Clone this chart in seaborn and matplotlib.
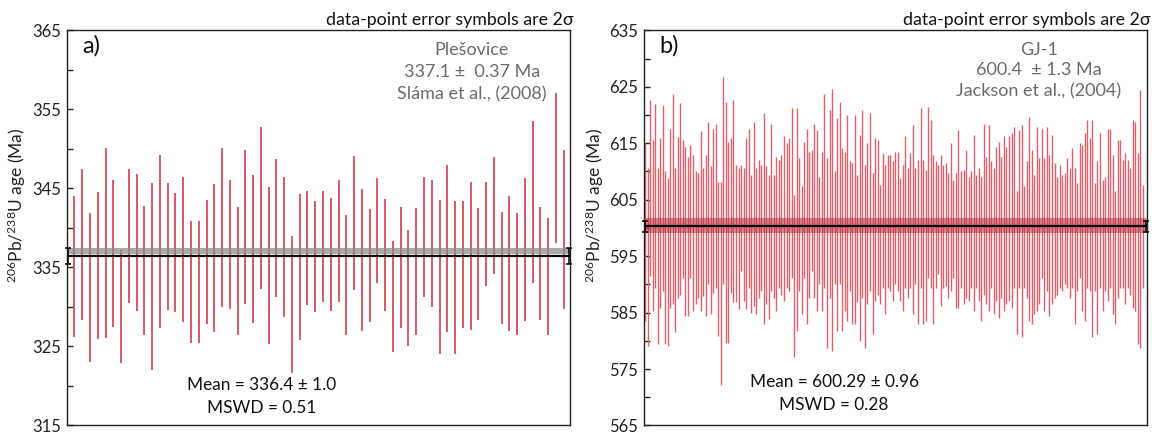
import numpy as np
import pandas as pd
import matplotlib
matplotlib.use("Agg")
import matplotlib.pyplot as plt
import seaborn as sns
from matplotlib.ticker import MultipleLocator

# ---------------- data: panel a (Plesovice) ----------------
hi_a = [344.0, 347.5, 341.9, 344.5, 350.1, 346.1, 337.2, 347.4, 346.8, 342.8,
        345.7, 349.2, 345.7, 344.4, 346.5, 340.9, 340.9, 343.5, 345.6, 350.1,
        346.1, 342.7, 349.8, 346.7, 352.8, 345.2, 348.7, 346.5, 339.0, 344.3,
        344.7, 343.4, 344.7, 343.8, 346.1, 341.6, 349.1, 344.9, 342.4, 346.3,
        343.7, 338.4, 342.7, 339.7, 342.5, 346.5, 346.1, 343.5, 348.0, 343.4,
        343.4, 345.8, 342.5, 345.8, 349.0, 342.0, 344.0, 341.9, 346.3, 353.5,
        342.7, 341.3, 357.1, 349.9]
lo_a = [326.2, 328.3, 323.0, 326.0, 326.1, 327.5, 322.9, 330.5, 329.5, 326.4,
        322.0, 327.3, 329.6, 329.3, 328.1, 325.4, 325.4, 327.8, 326.8, 330.0,
        329.8, 326.5, 330.4, 328.0, 332.3, 325.3, 331.3, 328.7, 321.7, 325.8,
        330.3, 329.3, 330.6, 329.5, 330.6, 326.4, 332.1, 327.0, 328.1, 333.0,
        329.5, 324.3, 327.4, 325.0, 326.4, 331.2, 330.0, 324.0, 326.8, 324.0,
        327.4, 327.1, 328.4, 332.6, 334.2, 327.8, 326.9, 326.4, 328.2, 333.0,
        328.3, 326.5, 338.1, 329.8]
mean_a, mean_err_a = 336.4, 1.0
ref_a, ref_err_a = 337.1, 0.37

# ---------------- data: panel b (GJ-1) ----------------
hi_b = [615.0, 610.6, 622.6, 615.6, 621.9, 610.6, 615.9, 621.8, 610.0, 608.8,
        617.6, 623.8, 610.6, 616.1, 622.1, 615.6, 614.4, 612.6, 614.7, 612.9,
        610.0, 609.7, 617.1, 610.6, 612.9, 618.8, 610.9, 617.6, 618.5, 608.2,
        608.2, 626.8, 622.4, 615.3, 615.9, 622.6, 611.2, 610.6,
        611.2, 610.6, 615.9, 617.6, 609.4, 618.8, 610.6, 612.1, 611.2, 620.3,
        610.9, 609.4, 618.5, 609.4, 612.6, 612.1, 612.9, 616.2, 615.0, 615.9,
        621.2, 605.9, 621.2, 612.4, 607.4, 615.3, 617.6, 613.5, 613.8, 618.5,
        617.4, 609.1, 613.5, 623.8, 612.4, 620.9, 624.7, 610.0, 619.4,
        622.4, 614.1, 613.5, 620.0, 611.8, 611.5, 620.0, 609.4, 616.5, 620.9,
        611.2, 615.0, 620.3, 609.7, 615.9, 615.6, 607.6, 613.2, 611.2, 612.9,
        612.9, 611.8, 613.5, 613.5, 608.8, 611.2, 616.2, 610.6, 613.2, 618.2,
        610.6, 612.1, 621.2, 612.1, 610.3, 621.5, 619.1, 612.9, 611.8, 611.2,
        612.9, 611.2, 611.5, 609.7, 615.0, 608.5, 609.7, 617.4, 610.0, 610.3,
        613.8, 609.1, 610.0, 616.5, 609.4, 610.6, 609.1, 618.5, 612.6, 618.2,
        611.8, 610.6, 614.4, 615.3, 612.6, 616.2, 614.4, 616.2, 616.8, 617.9,
        606.5, 617.4, 618.2, 607.4, 611.8, 619.7, 613.8, 609.4, 617.9, 612.4,
        617.6, 612.4, 617.9, 612.9, 616.5, 611.5, 609.1, 611.2, 609.4, 609.7,
        612.4, 610.6, 614.1, 610.6, 607.9, 615.0, 614.7, 616.8, 619.1, 615.9,
        619.1, 607.9, 611.8, 616.8, 608.5, 609.1, 617.6, 617.6, 612.9, 606.5,
        615.6, 615.6, 612.1, 613.2, 612.1, 610.6, 619.1, 618.8, 613.2, 624.4,
        607.6]
lo_b = [583.5, 579.1, 591.5, 585.3, 589.4, 579.4, 585.9, 588.8, 579.4, 579.1,
        585.9, 586.5, 581.5, 587.6, 588.2, 591.2, 584.4, 584.4, 591.2, 585.3,
        586.5, 587.6, 585.3, 587.9, 584.4, 590.0, 584.7, 588.5, 589.4, 580.9,
        572.1, 590.0, 579.7, 579.7, 588.5, 586.8, 586.8, 585.6,
        592.4, 587.1, 585.6, 589.4, 585.0, 586.2, 584.7, 587.6, 588.8, 582.9,
        586.5, 583.8, 588.8, 587.6, 585.3, 589.4, 588.2, 587.1, 589.4, 588.8,
        591.2, 577.1, 581.8, 588.8, 584.7, 591.2, 582.9, 587.6, 592.4, 587.6,
        585.3, 590.0, 585.3, 589.4, 578.8, 587.6, 578.2, 590.0, 581.8,
        590.0, 581.8, 585.3, 583.5, 588.8, 582.9, 582.9, 586.8, 580.0, 587.6,
        578.8, 586.5, 588.8, 581.2, 587.1, 588.2, 586.5, 589.4, 584.7, 589.4,
        588.8, 587.1, 590.0, 588.8, 587.1, 585.3, 589.4, 587.6, 589.4, 584.7,
        590.0, 582.9, 589.4, 582.9, 583.5, 591.2, 589.4, 582.9, 589.4, 591.8,
        586.2, 589.4, 589.7, 587.6, 588.8, 591.2, 585.9, 585.9, 589.4, 586.5,
        587.6, 587.1, 589.4, 585.3, 589.4, 587.1, 583.5, 588.2, 586.5, 585.3,
        589.4, 584.7, 587.1, 584.1, 587.6, 585.3, 586.5, 587.1, 585.9, 589.4,
        581.2, 589.4, 580.6, 589.4, 587.6, 583.5, 582.9, 584.7, 585.3, 586.5,
        591.2, 585.3, 588.8, 584.4, 586.5, 587.6, 588.2, 589.4, 588.8, 590.0,
        589.4, 587.6, 589.4, 582.9, 588.8, 591.2, 585.3, 583.5, 589.4, 588.8,
        580.6, 588.8, 581.2, 589.4, 585.3, 588.8, 587.1, 589.4, 584.7, 582.9,
        587.6, 589.4, 589.4, 586.5, 589.4, 588.2, 585.9, 585.3, 579.4, 578.8,
        589.4]
mean_b, mean_err_b = 600.29, 0.96
ref_b, ref_err_b = 600.4, 1.3

yticks_a = [315, 325, 335, 345, 355, 365]
yticks_b = [565, 575, 585, 595, 605, 615, 625, 635]

# ---------------- style ----------------
sns.set_theme(style="ticks")
plt.rcParams["font.family"] = ["Lato", "DejaVu Sans"]
plt.rcParams["mathtext.fontset"] = "custom"
plt.rcParams["mathtext.rm"] = "Lato"
plt.rcParams["mathtext.it"] = "Lato:italic"

fig = plt.figure(figsize=(11.52, 4.34), dpi=100)
ax_a = fig.add_axes([0.0579, 0.0196, 0.4369, 0.9104])
ax_b = fig.add_axes([0.5590, 0.0196, 0.4367, 0.9104])


def panel(ax, hi, lo, mean, merr, ref, rerr, yticks, xlim, band_color, band_alpha,
          bar_color, bar_lw, letter, info, mean_txt, mean_pos, info_x, info_ys):
    df = pd.DataFrame({"n": np.arange(1, len(hi) + 1), "hi": hi, "lo": lo})
    ax.vlines(df["n"], df["lo"], df["hi"], color=bar_color, lw=bar_lw, zorder=2)
    ax.axhspan(ref - rerr, ref + rerr, color=band_color, alpha=band_alpha, lw=0, zorder=3)
    ax.axhline(mean, color="black", lw=1.6, zorder=4)
    span = xlim[1] - xlim[0]
    ax.errorbar([xlim[0] + 0.002 * span, xlim[1] - 0.002 * span],
                [mean, mean], yerr=merr, fmt="none", ecolor="black",
                elinewidth=1.1, capsize=2.5, capthick=1.1, zorder=5, clip_on=False)
    ax.set_xlim(*xlim)
    ax.set_ylim(yticks[0], yticks[-1])
    ax.set_yticks(yticks)
    ax.yaxis.set_minor_locator(MultipleLocator(5))
    ax.set_xticks([])
    ax.tick_params(axis="y", which="both", direction="in", length=4, width=1,
                   labelsize=12, pad=4, colors="#222222")
    for s in ax.spines.values():
        s.set_visible(True)
        s.set_color("#222222")
        s.set_linewidth(1.0)
    ax.set_ylabel(r"$^{206}$Pb/$^{238}$U age (Ma)", fontsize=12.5, color="#222222")
    ax.yaxis.set_label_coords(-0.076, 0.556)
    ax.text(1.006, 1.026, "data-point error symbols are 2σ", transform=ax.transAxes,
            ha="right", va="center", fontsize=12.8, color="#111111")
    ax.text(0.03, 0.962, letter, transform=ax.transAxes, ha="left", va="center",
            fontsize=17, color="#111111")
    for line, yy in zip(info, info_ys):
        ax.text(info_x, yy, line, transform=ax.transAxes, ha="center", va="center",
                fontsize=13, color="#6b6b6b")
    ax.text(mean_pos[0], mean_pos[1], mean_txt[0], transform=ax.transAxes,
            ha="center", va="center", fontsize=12.4, color="#111111")
    ax.text(mean_pos[0], mean_pos[2], mean_txt[1], transform=ax.transAxes,
            ha="center", va="center", fontsize=12.4, color="#111111")


panel(ax_a, hi_a, lo_a, mean_a, mean_err_a, ref_a, ref_err_a, yticks_a, (0.0, 64.8),
      "#8c8c8c", 0.75, "#d53c4a", 1.2, "a)",
      ["Plešovice", "337.1 ±  0.37 Ma", "Sláma et al., (2008)"],
      ["Mean = 336.4 ± 1.0", "MSWD = 0.51"], (0.387, 0.102, 0.045),
      0.805, [0.950, 0.895, 0.839])

panel(ax_b, hi_b, lo_b, mean_b, mean_err_b, ref_b, ref_err_b, yticks_b, (0.6, 199.6),
      "#b8323f", 0.55, "#e0606c", 1.0, "b)",
      ["GJ-1", "600.4  ± 1.3 Ma", "Jackson et al., (2004)"],
      ["Mean = 600.29 ± 0.96", "MSWD = 0.28"], (0.378, 0.109, 0.052),
      0.785, [0.950, 0.900, 0.845])

fig.savefig("out.png", dpi=100)
